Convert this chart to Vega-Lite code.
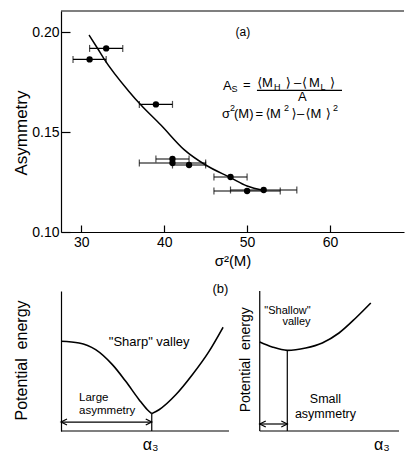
{
  "$schema": "https://vega.github.io/schema/vega-lite/v6.json",
  "padding": {"left": 12, "top": 10, "right": 0, "bottom": 0},
  "spacing": 14,
  "config": {
    "view": {"stroke": null},
    "font": "Liberation Sans, DejaVu Sans",
    "axis": {"grid": false, "domainColor": "black", "tickColor": "black", "labelColor": "black", "titleColor": "black", "labelFont": "Liberation Sans", "titleFont": "Liberation Sans, DejaVu Sans", "titleFontWeight": "normal", "domainWidth": 1.2, "tickWidth": 1.2}
  },
  "datasets": {
    "points": [
      {"s2": 31, "asym": 0.1863, "lo": 29, "hi": 33},
      {"s2": 33, "asym": 0.1918, "lo": 31, "hi": 35},
      {"s2": 39, "asym": 0.1638, "lo": 37, "hi": 41},
      {"s2": 41, "asym": 0.1365, "lo": 39, "hi": 43},
      {"s2": 41, "asym": 0.1345, "lo": 37, "hi": 45},
      {"s2": 43, "asym": 0.1335, "lo": 41, "hi": 45},
      {"s2": 48, "asym": 0.1275, "lo": 46, "hi": 50},
      {"s2": 50, "asym": 0.1205, "lo": 46, "hi": 54},
      {"s2": 52, "asym": 0.1210, "lo": 48, "hi": 56}
    ],
    "fit": [
      {"s2": 30.93, "asym": 0.1985},
      {"s2": 31.93, "asym": 0.1920},
      {"s2": 32.74, "asym": 0.1866},
      {"s2": 35.75, "asym": 0.1703},
      {"s2": 37.17, "asym": 0.1636},
      {"s2": 39.6, "asym": 0.1535},
      {"s2": 42.4, "asym": 0.1412},
      {"s2": 45.0, "asym": 0.1335},
      {"s2": 48.0, "asym": 0.1272},
      {"s2": 50.0, "asym": 0.1230},
      {"s2": 52.0, "asym": 0.1208}
    ],
    "formulaMain": [
      {"s2": 47.09, "asym": 0.1730, "t": "A"},
      {"s2": 49.51, "asym": 0.1735, "t": "="},
      {"s2": 51.80, "asym": 0.17475, "t": "M"},
      {"s2": 55.66, "asym": 0.17475, "t": "–"},
      {"s2": 57.47, "asym": 0.17475, "t": "M"},
      {"s2": 56.14, "asym": 0.1675, "t": "A"},
      {"s2": 46.97, "asym": 0.159, "t": "σ"},
      {"s2": 48.42, "asym": 0.159, "t": "(M)"},
      {"s2": 51.01, "asym": 0.159, "t": "="},
      {"s2": 52.76, "asym": 0.159, "t": "M"},
      {"s2": 56.02, "asym": 0.159, "t": "–"},
      {"s2": 57.65, "asym": 0.159, "t": "M"}
    ],
    "brackets": [
      {"s2": 51.23, "asym": 0.17475, "t": "⟨"},
      {"s2": 54.66, "asym": 0.17475, "t": "⟩"},
      {"s2": 56.62, "asym": 0.17475, "t": "⟨"},
      {"s2": 60.0, "asym": 0.17475, "t": "⟩"},
      {"s2": 52.22, "asym": 0.159, "t": "⟨"},
      {"s2": 55.36, "asym": 0.159, "t": "⟩"},
      {"s2": 57.04, "asym": 0.159, "t": "⟨"},
      {"s2": 59.5, "asym": 0.159, "t": "⟩"}
    ],
    "formulaSmall": [
      {"s2": 48.12, "asym": 0.1715, "t": "S"},
      {"s2": 53.25, "asym": 0.1725, "t": "H"},
      {"s2": 58.85, "asym": 0.1725, "t": "L"},
      {"s2": 47.94, "asym": 0.16225, "t": "2"},
      {"s2": 54.45, "asym": 0.16225, "t": "2"},
      {"s2": 60.35, "asym": 0.16225, "t": "2"}
    ],
    "bar": [{"s2": 51.19, "s2b": 61.45, "asym": 0.17085}],
    "labA": [{"s2": 49.5, "asym": 0.2, "t": "(a)"}],
    "segs": [
      {"x": 0, "y": 0, "x2": 9.94, "y2": 0},
      {"x": 11.76, "y": 0, "x2": 20, "y2": 0},
      {"x": 11.76, "y": 0, "x2": 11.76, "y2": 10},
      {"x": 5.37, "y": 0, "x2": 5.37, "y2": 1.24},
      {"x": 13.39, "y": 0, "x2": 13.39, "y2": 5.76},
      {"x": 0, "y": 0.64, "x2": 5.37, "y2": 0.64},
      {"x": 11.76, "y": 0.5, "x2": 13.39, "y2": 0.5}
    ],
    "curves": [
      {"seg": "L1", "x": 0, "y": 6.41},
      {"seg": "L1", "x": 1.07, "y": 6.29},
      {"seg": "L1", "x": 2.05, "y": 5.81},
      {"seg": "L1", "x": 3.04, "y": 4.74},
      {"seg": "L1", "x": 3.83, "y": 3.55},
      {"seg": "L1", "x": 4.62, "y": 2.24},
      {"seg": "L1", "x": 5.11, "y": 1.52},
      {"seg": "L1", "x": 5.37, "y": 1.24},
      {"seg": "L2", "x": 5.37, "y": 1.24},
      {"seg": "L2", "x": 5.80, "y": 1.52},
      {"seg": "L2", "x": 6.79, "y": 2.59},
      {"seg": "L2", "x": 7.77, "y": 4.02},
      {"seg": "L2", "x": 8.76, "y": 5.69},
      {"seg": "L2", "x": 9.59, "y": 7.41},
      {"seg": "R", "x": 11.76, "y": 6.36},
      {"seg": "R", "x": 12.50, "y": 6.0},
      {"seg": "R", "x": 13.39, "y": 5.76},
      {"seg": "R", "x": 14.48, "y": 5.93},
      {"seg": "R", "x": 15.46, "y": 6.29},
      {"seg": "R", "x": 16.45, "y": 7.0},
      {"seg": "R", "x": 17.44, "y": 8.07},
      {"seg": "R", "x": 18.33, "y": 9.14}
    ],
    "arrowL": [{"x": 0, "y": 0.64}, {"x": 11.76, "y": 0.5}],
    "arrowR": [{"x": 5.37, "y": 0.64}, {"x": 13.39, "y": 0.5}],
    "textsLeftAlign": [
      {"x": 1.07, "y": 2.36, "t": "Large"},
      {"x": 1.07, "y": 1.41, "t": "asymmetry"}
    ],
    "textsRightAlign": [
      {"x": 14.77, "y": 8.55, "t": "\"Shallow\""},
      {"x": 14.77, "y": 7.79, "t": "valley"}
    ],
    "textsCenter": [
      {"x": 9.43, "y": 10.16, "t": "(b)"},
      {"x": 5.22, "y": 6.36, "t": "\"Sharp\" valley"}
    ],
    "textsSmallAsym": [
      {"x": 15.65, "y": 2.3, "t": "Small"},
      {"x": 15.65, "y": 1.25, "t": "asymmetry"}
    ],
    "alpha": [
      {"x": 5.31, "y": -0.98, "t": "α₃"},
      {"x": 18.99, "y": -0.98, "t": "α₃"}
    ],
    "rotTitle": [{"x": 10.95, "y": 5.09, "t": "Potential\u00a0\u00a0energy"}]
  },
  "vconcat": [
    {
      "width": 343,
      "height": 221,
      "encoding": {
        "x": {"field": "s2", "type": "quantitative", "scale": {"domain": [27.55, 68.93], "nice": false, "zero": false},
              "axis": {"values": [30, 40, 50, 60], "tickSize": -7, "labelFontSize": 14, "labelPadding": 10, "title": "σ²(M)", "titleFontSize": 15, "titlePadding": 4}},
        "y": {"field": "asym", "type": "quantitative", "scale": {"domain": [0.10, 0.2105], "nice": false, "zero": false},
              "axis": {"values": [0.1, 0.15, 0.2], "format": ".2f", "tickSize": -9, "labelFontSize": 14, "labelPadding": 11, "title": "Asymmetry", "titleFontSize": 17, "titleX": -40, "titleY": 121.5, "titleBaseline": "middle"}}
      },
      "layer": [
        {"data": {"name": "labA"}, "mark": {"type": "rule", "color": "black", "strokeWidth": 1.2}, "encoding": {"x": null, "y": {"datum": 0.2105, "type": "quantitative"}}},
        {"data": {"name": "points"}, "mark": {"type": "rule", "color": "black", "strokeWidth": 1.2}, "encoding": {"x": {"field": "lo", "type": "quantitative"}, "x2": {"field": "hi"}}},
        {"data": {"name": "points"}, "mark": {"type": "tick", "orient": "vertical", "color": "black", "size": 7, "thickness": 1.2}, "encoding": {"x": {"field": "lo", "type": "quantitative"}}},
        {"data": {"name": "points"}, "mark": {"type": "tick", "orient": "vertical", "color": "black", "size": 7, "thickness": 1.2}, "encoding": {"x": {"field": "hi", "type": "quantitative"}}},
        {"data": {"name": "points"}, "mark": {"type": "circle", "color": "black", "size": 40, "opacity": 1}},
        {"data": {"name": "fit"}, "mark": {"type": "line", "color": "black", "strokeWidth": 1.5, "interpolate": "monotone"}},
        {"data": {"name": "bar"}, "mark": {"type": "rule", "color": "black", "strokeWidth": 1.2}, "encoding": {"x2": {"field": "s2b"}}},
        {"data": {"name": "formulaMain"}, "mark": {"type": "text", "align": "left", "baseline": "middle", "fontSize": 13, "font": "Liberation Sans", "color": "black"}, "encoding": {"text": {"field": "t"}}},
        {"data": {"name": "brackets"}, "mark": {"type": "text", "align": "left", "baseline": "middle", "fontSize": 13, "font": "DejaVu Sans", "color": "black"}, "encoding": {"text": {"field": "t"}}},
        {"data": {"name": "formulaSmall"}, "mark": {"type": "text", "align": "left", "baseline": "middle", "fontSize": 9, "font": "Liberation Sans", "color": "black"}, "encoding": {"text": {"field": "t"}}},
        {"data": {"name": "labA"}, "mark": {"type": "text", "align": "center", "baseline": "middle", "fontSize": 12, "color": "black"}, "encoding": {"text": {"field": "t"}}}
      ]
    },
    {
      "width": 338,
      "height": 140,
      "encoding": {
        "x": {"field": "x", "type": "quantitative", "scale": {"domain": [0, 20], "nice": false, "zero": false}, "axis": null},
        "y": {"field": "y", "type": "quantitative", "scale": {"domain": [0, 10], "nice": false, "zero": false},
              "axis": {"ticks": false, "labels": false, "title": "Potential\u00a0\u00a0energy", "titleFontSize": 16, "titleX": -40, "titleY": 69, "titleBaseline": "middle"}}
      },
      "layer": [
        {"data": {"name": "segs"}, "mark": {"type": "rule", "color": "black", "strokeWidth": 1.2}, "encoding": {"x2": {"field": "x2"}, "y2": {"field": "y2"}}},
        {"data": {"name": "curves"}, "mark": {"type": "line", "color": "black", "strokeWidth": 1.6, "interpolate": "monotone"}, "encoding": {"detail": {"field": "seg"}}},
        {"data": {"name": "arrowL"}, "mark": {"type": "point", "shape": "M2,-1L0,0L2,1", "filled": false, "color": "black", "size": 36, "strokeWidth": 1.2, "opacity": 1}},
        {"data": {"name": "arrowR"}, "mark": {"type": "point", "shape": "M-2,-1L0,0L-2,1", "filled": false, "color": "black", "size": 36, "strokeWidth": 1.2, "opacity": 1}},
        {"data": {"name": "textsLeftAlign"}, "mark": {"type": "text", "align": "left", "baseline": "middle", "fontSize": 11.5, "color": "black"}, "encoding": {"text": {"field": "t"}}},
        {"data": {"name": "textsRightAlign"}, "mark": {"type": "text", "align": "right", "baseline": "middle", "fontSize": 11, "color": "black"}, "encoding": {"text": {"field": "t"}}},
        {"data": {"name": "textsCenter"}, "mark": {"type": "text", "align": "center", "baseline": "middle", "fontSize": 13, "color": "black"}, "encoding": {"text": {"field": "t"}}},
        {"data": {"name": "textsSmallAsym"}, "mark": {"type": "text", "align": "center", "baseline": "middle", "fontSize": 12.5, "color": "black"}, "encoding": {"text": {"field": "t"}}},
        {"data": {"name": "alpha"}, "mark": {"type": "text", "align": "center", "baseline": "middle", "fontSize": 16, "color": "black"}, "encoding": {"text": {"field": "t"}}},
        {"data": {"name": "rotTitle"}, "mark": {"type": "text", "align": "center", "baseline": "middle", "fontSize": 14, "angle": 270, "color": "black"}, "encoding": {"text": {"field": "t"}}}
      ]
    }
  ]
}
